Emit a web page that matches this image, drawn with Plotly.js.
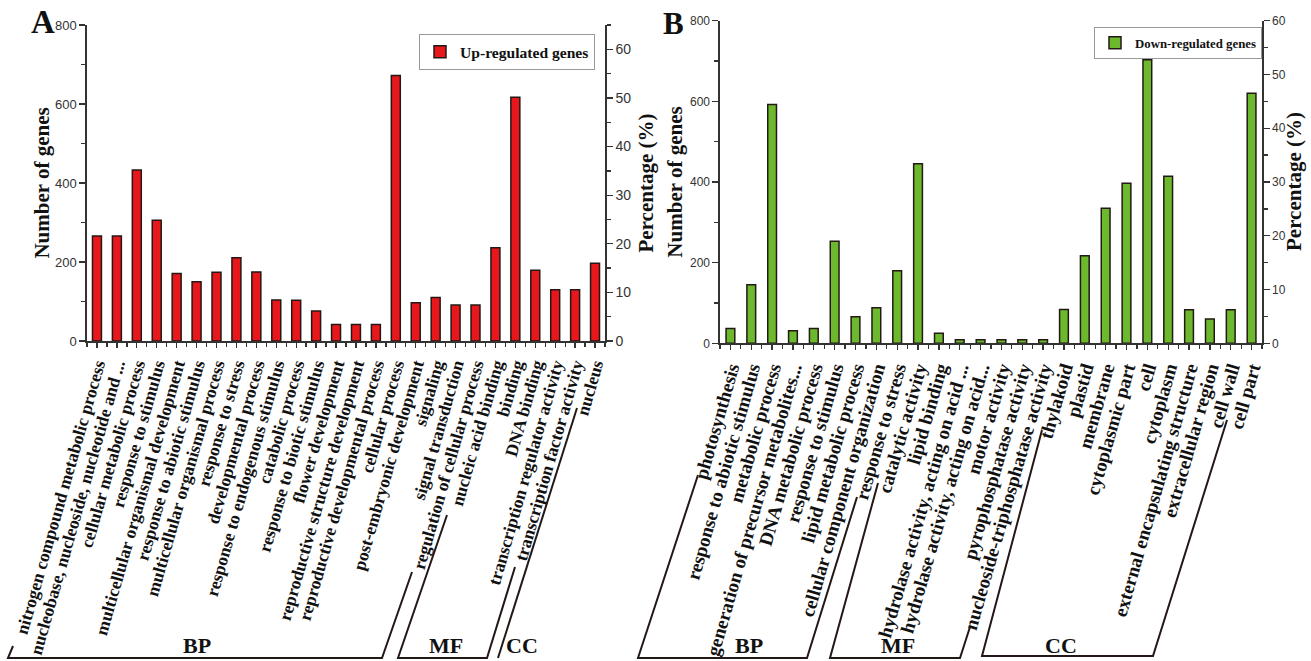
<!DOCTYPE html>
<html>
<head>
<meta charset="utf-8">
<script src="https://cdn.plot.ly/plotly-3.0.1.min.js"></script>
<style>html,body{margin:0;padding:0;background:#fff;}#chart{width:1311px;height:661px;}</style>
</head>
<body>
<div id="chart"></div>
<script>
// ---- Data ----
const catsA = [
  "nitrogen compound metabolic process",
  "nucleobase, nucleoside, nucleotide and ...",
  "cellular metabolic process",
  "response to stimulus",
  "multicellular organismal development",
  "response to abiotic stimulus",
  "multicellular organismal process",
  "response to stress",
  "developmental process",
  "response to endogenous stimulus",
  "catabolic process",
  "response to biotic stimulus",
  "flower development",
  "reproductive structure development",
  "reproductive developmental process",
  "cellular process",
  "post-embryonic development",
  "signaling",
  "signal transduction",
  "regulation of cellular process",
  "nucleic acid binding",
  "binding",
  "DNA binding",
  "transcription regulator activity",
  "transcription factor activity",
  "nucleus"
];
const genesA = [266, 266, 433, 306, 171, 150, 174, 211, 175, 104, 103, 76, 42, 42, 42, 672, 97, 110, 91, 91, 236, 617, 179, 130, 130, 197];

const catsB = [
  "photosynthesis",
  "response to abiotic stimulus",
  "metabolic process",
  "generation of precursor metabolites...",
  "DNA metabolic process",
  "response to stimulus",
  "lipid metabolic process",
  "cellular component organization",
  "response to stress",
  "catalytic activity",
  "lipid binding",
  "hydrolase activity, acting on acid ...",
  "hydrolase activity, acting on acid...",
  "motor activity",
  "pyrophosphatase activity",
  "nucleoside-triphosphatase activity",
  "thylakoid",
  "plastid",
  "membrane",
  "cytoplasmic part",
  "cell",
  "cytoplasm",
  "external encapsulating structure",
  "extracellular region",
  "cell wall",
  "cell part"
];
const genesB = [37, 145, 592, 31, 37, 253, 66, 88, 180, 445, 25, 9, 9, 9, 9, 9, 84, 217, 335, 397, 703, 414, 83, 60, 83, 620];

const groupLabels = ["BP", "MF", "CC"];
const seriesNames = ["Up-regulated genes", "Down-regulated genes"];
const axisTitles = ["Number of genes", "Percentage (%)"];

// ---- Helpers ----
const W = 1311, H = 661;
const px = x => x / W;
const py = y => 1 - y / H;
const P = (x, y) => `${(x / W).toFixed(5)},${(1 - y / H).toFixed(5)}`;
const idx = arr => arr.map((_, i) => i);

const SERIF = "Liberation Serif, Times New Roman, serif";
const SANS = "Liberation Sans, Arial, sans-serif";

const traces = [
  {
    type: "bar", x: idx(catsA), y: genesA, xaxis: "x", yaxis: "y",
    name: seriesNames[0], width: 0.45, legend: "legend",
    marker: { color: "#e8171c", line: { color: "#231815", width: 1.5 } },
    hovertext: catsA
  },
  { type: "scatter", x: [], y: [], xaxis: "x", yaxis: "y2", showlegend: false },
  {
    type: "bar", x: idx(catsB), y: genesB, xaxis: "x2", yaxis: "y3",
    name: seriesNames[1], width: 0.42, legend: "legend2",
    marker: { color: "#6cb92d", line: { color: "#231815", width: 1.5 } },
    hovertext: catsB
  },
  { type: "scatter", x: [], y: [], xaxis: "x2", yaxis: "y4", showlegend: false }
];

function xAxis(domain, cats, anchor, fsize) {
  return {
    domain: domain, anchor: anchor, type: "linear", range: [-0.5, cats.length - 0.5],
    tickmode: "array", tickvals: idx(cats), ticktext: cats, tickangle: -74,
    tickfont: { family: SERIF, size: fsize, color: "#111", weight: "bold" },
    ticks: "outside", ticklen: 5, tickwidth: 1.3, tickcolor: "#333",
    minor: { tickmode: "linear", tick0: 0.5, dtick: 1, ticks: "outside", ticklen: 4, tickwidth: 1.3, tickcolor: "#333" },
    showline: true, linecolor: "#333", linewidth: 1.6,
    showgrid: false, zeroline: false, automargin: false, fixedrange: true
  };
}
function yAxis(domain, range, dtick, minor, anchor, side, title, standoff, fsize, overlaying) {
  const a = {
    domain: domain, anchor: anchor, side: side, range: range,
    tickmode: "linear", tick0: 0, dtick: dtick,
    tickfont: { family: SANS, size: fsize, color: "#333" },
    ticks: "outside", ticklen: 6, tickwidth: 1.3, tickcolor: "#333",
    minor: { tickmode: "linear", tick0: 0, dtick: minor, ticks: "outside", ticklen: 4, tickwidth: 1.3, tickcolor: "#333" },
    showline: true, linecolor: "#333", linewidth: 1.6,
    showgrid: false, zeroline: false, automargin: false, fixedrange: true,
    title: { text: title, standoff: standoff, font: { family: SERIF, size: 21, color: "#111", weight: "bold" } }
  };
  if (overlaying) a.overlaying = overlaying;
  return a;
}

const domAx = [px(87), px(605)];
const domAy = [py(341), py(25)];
const domBx = [px(720), px(1262)];
const domBy = [py(343.3), py(20.7)];

const lineStyle = { color: "#231815", width: 2 };
const shapePaths = [
  `M${P(13,646)}L${P(8,658)}L${P(382,658)}L${P(412,572)}`,
  `M${P(447,515)}L${P(398,658)}L${P(487,658)}L${P(515,567)}`,
  `M${P(498,658)}L${P(577,408)}`,
  `M${P(698,475)}L${P(638,658)}L${P(807,658)}L${P(857,497)}`,
  `M${P(878,483)}L${P(830,658)}L${P(960,658)}L${P(970,627)}`,
  `M${P(1042,430)}L${P(982,656)}L${P(1153,656)}L${P(1227,420)}`
];
const shapes = shapePaths.map(p => ({ type: "path", xref: "paper", yref: "paper", path: p, line: lineStyle }));

const ann = (text, x, y, size) => ({
  text: text, xref: "paper", yref: "paper", x: px(x), y: py(y),
  xanchor: "center", yanchor: "middle", showarrow: false,
  font: { family: SERIF, size: size, color: "#111", weight: "bold" }
});

const annotations = [
  ann("A", 43, 22, 33),
  ann("B", 673, 23, 31),
  ann(groupLabels[0], 197, 645, 22),
  ann(groupLabels[1], 446, 645, 22),
  ann(groupLabels[2], 522, 645, 22),
  ann(groupLabels[0], 749, 645, 22),
  ann(groupLabels[1], 898, 645, 22),
  ann(groupLabels[2], 1061, 645, 22),
  Object.assign(ann(axisTitles[1], 1294, 182, 21), { textangle: -90 })
];

const layout = {
  width: W, height: H,
  margin: { l: 0, r: 0, t: 0, b: 0, pad: 0 },
  paper_bgcolor: "#fff", plot_bgcolor: "rgba(0,0,0,0)",
  showlegend: true,
  bargap: 0,
  xaxis: xAxis(domAx, catsA, "y", 17.6),
  yaxis: yAxis(domAy, [0, 800], 200, 100, "x", "left", axisTitles[0], 0, 13),
  yaxis2: yAxis(domAy, [0, 65], 10, 5, "x", "right", axisTitles[1], 8, 14, "y"),
  xaxis2: xAxis(domBx, catsB, "y3", 19),
  yaxis3: yAxis(domBy, [0, 800], 200, 100, "x2", "left", axisTitles[0], 1, 12),
  yaxis4: yAxis(domBy, [0, 60], 10, 5, "x2", "right", "", 0, 12, "y3"),
  legend: {
    x: px(419), y: py(34), xanchor: "left", yanchor: "top",
    bgcolor: "#fff", bordercolor: "#999", borderwidth: 1,
    font: { family: SERIF, size: 15.6, color: "#111", weight: "bold" },
    itemwidth: 30, tracegroupgap: 0
  },
  legend2: {
    x: px(1094), y: py(27), xanchor: "left", yanchor: "top",
    bgcolor: "#fff", bordercolor: "#999", borderwidth: 1,
    font: { family: SERIF, size: 12.8, color: "#111", weight: "bold" },
    itemwidth: 30, tracegroupgap: 0
  },
  shapes: shapes,
  annotations: annotations
};

Plotly.newPlot("chart", traces, layout, { displayModeBar: false, staticPlot: true });
</script>
</body>
</html>
